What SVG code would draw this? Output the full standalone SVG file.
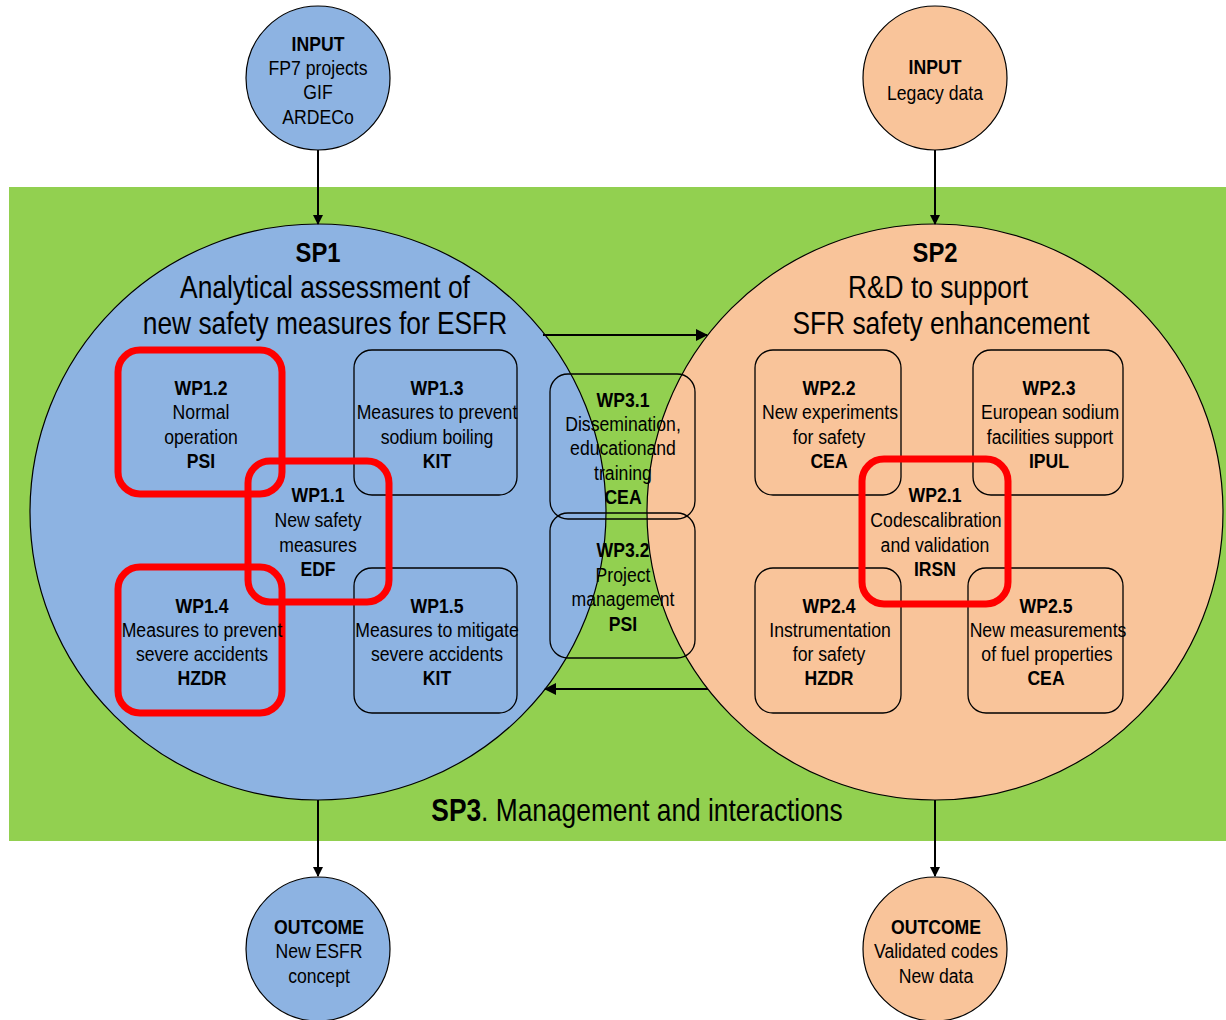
<svg xmlns="http://www.w3.org/2000/svg" width="1226" height="1020" viewBox="0 0 1226 1020">
<defs>
<marker id="ah" markerWidth="10" markerHeight="10" refX="9" refY="5" orient="auto" markerUnits="userSpaceOnUse"><path d="M0,0 L10,5 L0,10 Z" fill="#000"/></marker>
<marker id="ahw" markerWidth="12" markerHeight="12" refX="11" refY="6" orient="auto" markerUnits="userSpaceOnUse"><path d="M0,0 L12,6 L0,12 Z" fill="#000"/></marker>
</defs>
<style>
text{font-family:"Liberation Sans",Arial,sans-serif;fill:#000;text-anchor:middle}
.t{font-size:21px}
.b{font-weight:bold}
.big{font-size:31px}
.sp{font-size:28px;font-weight:bold}
.blue{fill:#8DB3E2;stroke:#000;stroke-width:1.2}
.peach{fill:#F9C49A;stroke:#000;stroke-width:1.2}
.box{fill:none;stroke:#000;stroke-width:1.3}
.red{fill:none;stroke:#FF0000;stroke-width:7}
.ln{stroke:#000;stroke-width:2;fill:none}
</style>
<rect x="0" y="0" width="1226" height="1020" fill="#fff"/>
<g id="sp3">
<rect x="9" y="187" width="1217" height="654" fill="#92D050"/>
<text transform="matrix(.85 0 0 1 637 821)" class="big"><tspan class="b">SP3</tspan>. Management and interactions</text>
</g>
<g id="sp1">
<circle cx="318" cy="512" r="288" class="blue"/>
<text transform="matrix(.85 0 0 1 318 262)" class="sp">SP1</text>
<text transform="matrix(.85 0 0 1 325 298)" class="big">Analytical assessment of</text>
<text transform="matrix(.85 0 0 1 325 334)" class="big">new safety measures for ESFR</text>
</g>
<g id="sp2">
<circle cx="935" cy="512" r="288" class="peach"/>
<text transform="matrix(.85 0 0 1 935 262)" class="sp">SP2</text>
<text transform="matrix(.85 0 0 1 938 298)" class="big">R&amp;D to support</text>
<text transform="matrix(.85 0 0 1 941 334)" class="big">SFR safety enhancement</text>
</g>
<g id="wp1.3">
<rect x="354" y="350" width="163" height="145" rx="18" class="box"/>
<text transform="matrix(.84 0 0 1 437 395)" class="t b">WP1.3</text>
<text transform="matrix(.84 0 0 1 437 419)" class="t">Measures to prevent</text>
<text transform="matrix(.84 0 0 1 437 444)" class="t">sodium boiling</text>
<text transform="matrix(.84 0 0 1 437 468)" class="t b">KIT</text>
</g>
<g id="wp1.5">
<rect x="354" y="568" width="163" height="145" rx="18" class="box"/>
<text transform="matrix(.84 0 0 1 437 613)" class="t b">WP1.5</text>
<text transform="matrix(.84 0 0 1 437 637)" class="t">Measures to mitigate</text>
<text transform="matrix(.84 0 0 1 437 661)" class="t">severe accidents</text>
<text transform="matrix(.84 0 0 1 437 685)" class="t b">KIT</text>
</g>
<g id="wp1.2">
<rect x="118" y="350" width="164" height="144" rx="22" class="red"/>
<text transform="matrix(.84 0 0 1 201 395)" class="t b">WP1.2</text>
<text transform="matrix(.84 0 0 1 201 419)" class="t">Normal</text>
<text transform="matrix(.84 0 0 1 201 444)" class="t">operation</text>
<text transform="matrix(.84 0 0 1 201 468)" class="t b">PSI</text>
</g>
<g id="wp1.1">
<rect x="248" y="461" width="141" height="141" rx="22" class="red"/>
<text transform="matrix(.84 0 0 1 318 502)" class="t b">WP1.1</text>
<text transform="matrix(.84 0 0 1 318 527)" class="t">New safety</text>
<text transform="matrix(.84 0 0 1 318 552)" class="t">measures</text>
<text transform="matrix(.84 0 0 1 318 576)" class="t b">EDF</text>
</g>
<g id="wp1.4">
<rect x="118" y="567" width="164" height="146" rx="22" class="red"/>
<text transform="matrix(.84 0 0 1 202 613)" class="t b">WP1.4</text>
<text transform="matrix(.84 0 0 1 202 637)" class="t">Measures to prevent</text>
<text transform="matrix(.84 0 0 1 202 661)" class="t">severe accidents</text>
<text transform="matrix(.84 0 0 1 202 685)" class="t b">HZDR</text>
</g>
<g id="wp3.1">
<rect x="550" y="374" width="145" height="145" rx="18" class="box"/>
<text transform="matrix(.84 0 0 1 623 407)" class="t b">WP3.1</text>
<text transform="matrix(.84 0 0 1 623 431)" class="t">Dissemination,</text>
<text transform="matrix(.84 0 0 1 623 455)" class="t">educationand</text>
<text transform="matrix(.84 0 0 1 623 480)" class="t">training</text>
<text transform="matrix(.84 0 0 1 623 504)" class="t b">CEA</text>
</g>
<g id="wp3.2">
<rect x="550" y="513" width="145" height="145" rx="18" class="box"/>
<text transform="matrix(.84 0 0 1 623 557)" class="t b">WP3.2</text>
<text transform="matrix(.84 0 0 1 623 582)" class="t">Project</text>
<text transform="matrix(.84 0 0 1 623 606)" class="t">management</text>
<text transform="matrix(.84 0 0 1 623 631)" class="t b">PSI</text>
</g>
<g id="wp2.2">
<rect x="755" y="350" width="146" height="145" rx="18" class="box"/>
<text transform="matrix(.84 0 0 1 829 395)" class="t b">WP2.2</text>
<text transform="matrix(.84 0 0 1 830 419)" class="t">New experiments</text>
<text transform="matrix(.84 0 0 1 829 444)" class="t">for safety</text>
<text transform="matrix(.84 0 0 1 829 468)" class="t b">CEA</text>
</g>
<g id="wp2.3">
<rect x="973" y="350" width="150" height="145" rx="18" class="box"/>
<text transform="matrix(.84 0 0 1 1049 395)" class="t b">WP2.3</text>
<text transform="matrix(.84 0 0 1 1050 419)" class="t">European sodium</text>
<text transform="matrix(.84 0 0 1 1050 444)" class="t">facilities support</text>
<text transform="matrix(.84 0 0 1 1049 468)" class="t b">IPUL</text>
</g>
<g id="wp2.4">
<rect x="755" y="568" width="146" height="145" rx="18" class="box"/>
<text transform="matrix(.84 0 0 1 829 613)" class="t b">WP2.4</text>
<text transform="matrix(.84 0 0 1 830 637)" class="t">Instrumentation</text>
<text transform="matrix(.84 0 0 1 829 661)" class="t">for safety</text>
<text transform="matrix(.84 0 0 1 829 685)" class="t b">HZDR</text>
</g>
<g id="wp2.5">
<rect x="968" y="568" width="155" height="145" rx="18" class="box"/>
<text transform="matrix(.84 0 0 1 1046 613)" class="t b">WP2.5</text>
<text transform="matrix(.84 0 0 1 1048 637)" class="t">New measurements</text>
<text transform="matrix(.84 0 0 1 1047 661)" class="t">of fuel properties</text>
<text transform="matrix(.84 0 0 1 1046 685)" class="t b">CEA</text>
</g>
<g id="wp2.1">
<rect x="862" y="459" width="146" height="145" rx="22" class="red"/>
<text transform="matrix(.84 0 0 1 935 502)" class="t b">WP2.1</text>
<text transform="matrix(.84 0 0 1 936 527)" class="t">Codescalibration</text>
<text transform="matrix(.84 0 0 1 935 552)" class="t">and validation</text>
<text transform="matrix(.84 0 0 1 935 576)" class="t b">IRSN</text>
</g>
<g id="input1">
<circle cx="318" cy="78" r="72" class="blue"/>
<text transform="matrix(.84 0 0 1 318 51)" class="t b">INPUT</text>
<text transform="matrix(.84 0 0 1 318 75)" class="t">FP7 projects</text>
<text transform="matrix(.84 0 0 1 318 99)" class="t">GIF</text>
<text transform="matrix(.84 0 0 1 318 124)" class="t">ARDECo</text>
</g>
<g id="input2">
<circle cx="935" cy="78" r="72" class="peach"/>
<text transform="matrix(.84 0 0 1 935 74)" class="t b">INPUT</text>
<text transform="matrix(.84 0 0 1 935 100)" class="t">Legacy data</text>
</g>
<g id="outcome1">
<circle cx="318" cy="949" r="72" class="blue"/>
<text transform="matrix(.84 0 0 1 319 934)" class="t b">OUTCOME</text>
<text transform="matrix(.84 0 0 1 319 958)" class="t">New ESFR</text>
<text transform="matrix(.84 0 0 1 319 983)" class="t">concept</text>
</g>
<g id="outcome2">
<circle cx="935" cy="949" r="72" class="peach"/>
<text transform="matrix(.84 0 0 1 936 934)" class="t b">OUTCOME</text>
<text transform="matrix(.84 0 0 1 936 958)" class="t">Validated codes</text>
<text transform="matrix(.84 0 0 1 936 983)" class="t">New data</text>
</g>
<g id="connectors">
<line x1="318" y1="150" x2="318" y2="224" class="ln" marker-end="url(#ah)"/>
<line x1="935" y1="150" x2="935" y2="224" class="ln" marker-end="url(#ah)"/>
<line x1="318" y1="800" x2="318" y2="876" class="ln" marker-end="url(#ah)"/>
<line x1="935" y1="800" x2="935" y2="876" class="ln" marker-end="url(#ah)"/>
<line x1="543" y1="335" x2="707" y2="335" class="ln" marker-end="url(#ahw)"/>
<line x1="708" y1="689" x2="545" y2="689" class="ln" marker-end="url(#ahw)"/>
</g>
</svg>
